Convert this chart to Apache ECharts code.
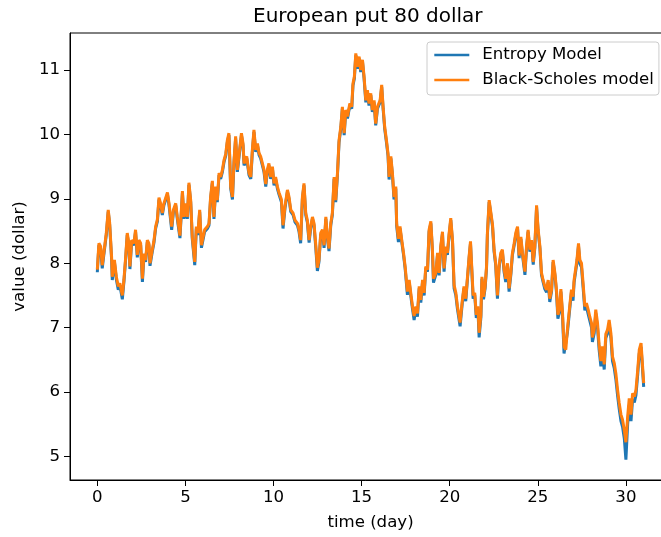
<!DOCTYPE html>
<html>
<head>
<meta charset="utf-8">
<script src="https://cdn.jsdelivr.net/npm/echarts@6/dist/echarts.min.js"></script>
<style>
  html, body { margin: 0; padding: 0; background: #fff; }
  #putChart { width: 661px; height: 537px; }
</style>
</head>
<body>
<div id="putChart"></div>
<script>
// time in days
const days = [
  0.00, 0.09, 0.19, 0.28, 0.37, 0.51, 0.62, 0.70, 0.81, 0.85, 0.97, 1.08, 1.19, 1.28, 1.42, 1.51, 1.61, 1.70, 1.79, 1.85,
  1.95, 2.08, 2.17, 2.27, 2.36, 2.46, 2.56, 2.65, 2.74, 2.84, 2.93, 2.99, 3.12, 3.21, 3.31, 3.41, 3.50, 3.59, 3.69, 3.78,
  3.98, 4.07, 4.22, 4.32, 4.45, 4.54, 4.69, 4.83, 4.92, 5.01, 5.11, 5.20, 5.30, 5.39, 5.53, 5.62, 5.71, 5.81, 5.91, 6.00,
  6.09, 6.25, 6.34, 6.43, 6.53, 6.62, 6.72, 6.81, 6.91, 7.00, 7.10, 7.19, 7.29, 7.38, 7.47, 7.57, 7.67, 7.76, 7.85, 7.95,
  8.04, 8.18, 8.27, 8.33, 8.48, 8.61, 8.71, 8.80, 8.89, 8.99, 9.09, 9.18, 9.27, 9.37, 9.46, 9.56, 9.65, 9.74, 9.84, 9.94,
  10.03, 10.12, 10.22, 10.31, 10.45, 10.54, 10.65, 10.79, 10.88, 10.98, 11.11, 11.22, 11.36, 11.45, 11.54, 11.64, 11.73, 11.83, 11.92, 12.02,
  12.11, 12.21, 12.30, 12.40, 12.49, 12.58, 12.68, 12.78, 12.87, 12.97, 13.06, 13.15, 13.25, 13.34, 13.44, 13.53, 13.63, 13.72, 13.82, 13.91,
  14.01, 14.10, 14.20, 14.33, 14.44, 14.51, 14.59, 14.67, 14.76, 14.86, 14.95, 15.05, 15.14, 15.24, 15.33, 15.42, 15.52, 15.61, 15.71, 15.80,
  15.90, 16.05, 16.14, 16.22, 16.31, 16.41, 16.50, 16.56, 16.66, 16.75, 16.84, 16.94, 16.99, 17.09, 17.18, 17.28, 17.38, 17.47, 17.60, 17.70,
  17.79, 17.89, 17.98, 18.08, 18.17, 18.27, 18.36, 18.46, 18.55, 18.64, 18.74, 18.83, 18.93, 19.02, 19.08, 19.21, 19.31, 19.40, 19.49, 19.59,
  19.68, 19.78, 19.87, 19.97, 20.06, 20.16, 20.25, 20.35, 20.44, 20.59, 20.72, 20.81, 20.91, 21.01, 21.10, 21.18, 21.25, 21.33, 21.42, 21.51,
  21.60, 21.67, 21.77, 21.83, 21.92, 22.01, 22.09, 22.14, 22.24, 22.33, 22.43, 22.52, 22.61, 22.71, 22.80, 22.90, 22.99, 23.09, 23.18, 23.28,
  23.37, 23.47, 23.56, 23.66, 23.75, 23.85, 23.94, 24.04, 24.13, 24.27, 24.36, 24.45, 24.55, 24.65, 24.74, 24.83, 24.93, 25.02, 25.12, 25.21,
  25.30, 25.40, 25.50, 25.59, 25.68, 25.78, 25.87, 25.97, 26.06, 26.14, 26.23, 26.31, 26.40, 26.49, 26.59, 26.68, 26.78, 26.83, 26.91, 27.00,
  27.06, 27.16, 27.22, 27.31, 27.39, 27.48, 27.57, 27.67, 27.76, 27.86, 27.95, 28.05, 28.10, 28.20, 28.29, 28.39, 28.48, 28.58, 28.67, 28.77,
  28.86, 28.96, 29.05, 29.15, 29.24, 29.34, 29.43, 29.53, 29.62, 29.72, 29.81, 29.91, 30.00, 30.10, 30.19, 30.29, 30.38, 30.48, 30.57, 30.67,
  30.76, 30.86, 30.95, 31.01
];

// Black-Scholes model (orange)
const blackScholes = [
  7.90, 8.31, 8.26, 7.97, 8.16, 8.47, 8.83, 8.63, 8.10, 7.79, 8.05, 7.79, 7.64, 7.69, 7.50, 7.74, 8.10, 8.47, 8.31, 7.95,
  8.36, 8.31, 8.52, 8.13, 8.36, 8.31, 7.76, 8.15, 8.05, 8.36, 8.31, 8.00, 8.21, 8.34, 8.57, 8.68, 9.02, 8.93, 8.78, 8.93,
  9.10, 8.93, 8.57, 8.83, 8.93, 8.72, 8.43, 9.12, 8.72, 8.93, 8.72, 9.25, 8.98, 8.41, 8.02, 8.57, 8.47, 8.83, 8.28, 8.30,
  8.52, 8.57, 8.62, 9.03, 9.28, 8.72, 9.19, 8.98, 9.40, 9.34, 9.45, 9.60, 9.70, 9.91, 10.02, 9.19, 9.03, 9.60, 9.97, 9.45,
  9.42, 10.02, 9.86, 9.55, 9.66, 9.40, 9.34, 9.76, 10.07, 9.76, 9.86, 9.71, 9.66, 9.55, 9.45, 9.23, 9.45, 9.55, 9.34, 9.50,
  9.24, 9.34, 9.19, 9.10, 8.99, 8.59, 8.88, 9.14, 9.03, 8.83, 8.78, 8.67, 8.62, 8.52, 8.36, 9.03, 9.24, 8.78, 8.67, 8.36,
  8.57, 8.72, 8.62, 8.28, 7.93, 8.05, 8.47, 8.52, 8.28, 8.72, 8.41, 8.23, 8.62, 8.78, 9.34, 8.98, 9.40, 9.91, 10.12, 10.43,
  10.02, 10.38, 10.28, 10.48, 10.43, 10.79, 10.90, 11.26, 11.05, 11.21, 11.00, 11.16, 10.90, 10.53, 10.69, 10.48, 10.64, 10.38, 10.53, 10.17,
  10.43, 10.53, 10.77, 10.43, 10.12, 9.91, 9.70, 9.34, 9.66, 9.40, 9.03, 9.19, 8.62, 8.38, 8.57, 8.36, 8.16, 7.95, 7.56, 7.74,
  7.54, 7.33, 7.18, 7.33, 7.22, 7.64, 7.43, 7.74, 7.54, 7.95, 7.90, 8.52, 8.65, 8.21, 7.76, 7.85, 8.16, 7.85, 8.26, 8.49,
  7.92, 8.26, 8.16, 8.47, 8.70, 8.36, 7.66, 7.54, 7.33, 7.08, 7.43, 7.64, 7.45, 7.79, 8.10, 8.34, 7.95, 7.50, 7.54, 7.20,
  7.33, 6.92, 7.20, 7.79, 7.48, 7.64, 7.95, 8.47, 8.98, 9.01, 8.60, 8.21, 8.00, 7.50, 7.95, 8.16, 8.21, 7.90, 7.76, 8.00,
  7.61, 7.85, 8.16, 8.31, 8.47, 8.57, 8.12, 8.41, 8.16, 7.87, 8.26, 8.52, 8.21, 8.36, 8.02, 8.26, 8.90, 8.52, 8.26, 7.85,
  7.74, 7.64, 7.59, 7.74, 7.45, 7.59, 8.05, 7.85, 7.59, 7.20, 7.28, 7.60, 7.25, 6.70, 6.66, 6.97, 6.97, 7.38, 7.59, 7.48,
  7.74, 7.74, 8.05, 8.31, 8.05, 8.00, 7.69, 7.33, 7.38, 7.28, 7.17, 7.07, 6.85, 6.97, 7.28, 7.07, 6.74, 6.48, 6.71, 6.43,
  6.90, 6.97, 7.12, 6.91, 6.55, 6.45, 6.29, 6.03, 5.83, 5.65, 5.57, 5.41, 5.22, 5.62, 5.90, 5.65, 5.98, 5.93, 6.03, 6.34,
  6.66, 6.76, 6.76, 6.14
];

// Entropy model (blue)
const entropyModel = [
  7.86, 8.28, 8.23, 7.92, 8.13, 8.44, 8.80, 8.60, 8.06, 7.74, 8.02, 7.75, 7.59, 7.66, 7.44, 7.71, 8.07, 8.44, 8.28, 7.91,
  8.33, 8.28, 8.49, 8.09, 8.33, 8.28, 7.71, 8.12, 8.02, 8.33, 8.28, 7.96, 8.18, 8.31, 8.54, 8.65, 8.99, 8.90, 8.75, 8.90,
  9.07, 8.90, 8.52, 8.80, 8.90, 8.69, 8.39, 9.09, 8.69, 8.90, 8.69, 9.22, 8.95, 8.38, 7.97, 8.54, 8.44, 8.80, 8.24, 8.26,
  8.49, 8.54, 8.59, 9.00, 9.25, 8.69, 9.16, 8.95, 9.37, 9.31, 9.42, 9.57, 9.67, 9.88, 9.99, 9.16, 8.99, 9.57, 9.94, 9.42,
  9.39, 9.99, 9.83, 9.52, 9.63, 9.37, 9.31, 9.73, 10.04, 9.73, 9.83, 9.68, 9.63, 9.52, 9.42, 9.19, 9.42, 9.52, 9.31, 9.47,
  9.21, 9.31, 9.16, 9.07, 8.95, 8.54, 8.85, 9.11, 9.00, 8.80, 8.75, 8.64, 8.59, 8.49, 8.31, 9.00, 9.21, 8.75, 8.64, 8.32,
  8.54, 8.69, 8.59, 8.24, 7.88, 8.02, 8.44, 8.49, 8.24, 8.69, 8.38, 8.19, 8.59, 8.75, 9.31, 8.95, 9.37, 9.88, 10.09, 10.40,
  9.99, 10.35, 10.25, 10.45, 10.40, 10.76, 10.87, 11.23, 11.02, 11.18, 10.97, 11.13, 10.87, 10.50, 10.66, 10.45, 10.61, 10.35, 10.50, 10.14,
  10.40, 10.50, 10.74, 10.40, 10.09, 9.88, 9.67, 9.30, 9.63, 9.37, 8.99, 9.16, 8.58, 8.33, 8.54, 8.33, 8.13, 7.92, 7.51, 7.71,
  7.50, 7.29, 7.12, 7.29, 7.17, 7.61, 7.39, 7.71, 7.50, 7.92, 7.87, 8.49, 8.62, 8.18, 7.70, 7.82, 8.13, 7.81, 8.23, 8.46,
  7.87, 8.23, 8.13, 8.44, 8.67, 8.33, 7.61, 7.50, 7.29, 7.02, 7.40, 7.61, 7.41, 7.76, 8.07, 8.31, 7.91, 7.45, 7.51, 7.15,
  7.29, 6.85, 7.16, 7.76, 7.44, 7.61, 7.92, 8.44, 8.95, 8.98, 8.57, 8.18, 7.97, 7.45, 7.92, 8.13, 8.18, 7.86, 7.71, 7.97,
  7.56, 7.82, 8.13, 8.28, 8.44, 8.54, 8.08, 8.38, 8.13, 7.82, 8.23, 8.49, 8.18, 8.33, 7.98, 8.23, 8.87, 8.49, 8.23, 7.82,
  7.71, 7.60, 7.55, 7.71, 7.40, 7.56, 8.02, 7.82, 7.55, 7.14, 7.24, 7.56, 7.20, 6.60, 6.60, 6.92, 6.92, 7.34, 7.55, 7.42,
  7.70, 7.69, 8.01, 8.27, 7.99, 7.94, 7.63, 7.27, 7.33, 7.21, 7.11, 7.00, 6.78, 6.91, 7.22, 7.00, 6.66, 6.40, 6.64, 6.35,
  6.84, 6.91, 7.06, 6.84, 6.48, 6.37, 6.20, 5.94, 5.74, 5.55, 5.46, 5.28, 4.95, 5.50, 5.80, 5.55, 5.89, 5.84, 5.95, 6.27,
  6.60, 6.70, 6.70, 6.08
];

const xTicks = [0, 5, 10, 15, 20, 25, 30];
const yTicks = [5, 6, 7, 8, 9, 10, 11];

const font = "DejaVu Sans";
const entropyData = days.map((d, i) => [d, entropyModel[i]]);
const bsData = days.map((d, i) => [d, blackScholes[i]]);

const chart = echarts.init(document.getElementById("putChart"), null, { renderer: "canvas" });

const option = {
  animation: false,
  backgroundColor: "#ffffff",
  textStyle: { fontFamily: font },
  title: {
    text: "European put 80 dollar",
    left: 253,
    top: 7,
    padding: 0,
    textStyle: { fontFamily: font, fontSize: 20, fontWeight: "normal", color: "#000" }
  },
  legend: {
    orient: "vertical",
    left: 427,
    top: 42,
    padding: [4, 5, 6, 6],
    itemWidth: 35,
    itemHeight: 18,
    itemGap: 7,
    itemStyle: { opacity: 0 },
    lineStyle: { width: 2.6 },
    backgroundColor: "rgba(255,255,255,0.8)",
    borderColor: "#cccccc",
    borderWidth: 1,
    borderRadius: 3,
    textStyle: { fontFamily: font, fontSize: 16.6, lineHeight: 18, color: "#000", padding: [0, 0, 0, 8] },
    data: ["Entropy Model", "Black-Scholes model"]
  },
  grid: {
    left: 70,
    top: 33,
    width: 601,
    bottom: 57,
    outerBoundsMode: "none",
    show: true,
    borderColor: "#000",
    borderWidth: 1,
    backgroundColor: "transparent"
  },
  xAxis: {
    type: "value",
    min: -1.55,
    max: 32.56,
    name: "time (day)",
    nameLocation: "middle",
    nameGap: 34,
    nameTextStyle: { fontFamily: font, fontSize: 16.6, color: "#000" },
    axisLine: { show: true, onZero: false, lineStyle: { color: "#000", width: 1 } },
    axisTick: { show: true, length: 6, customValues: xTicks, lineStyle: { color: "#000", width: 1 } },
    axisLabel: { customValues: xTicks, margin: 9, fontFamily: font, fontSize: 16.6, color: "#000" },
    splitLine: { show: false }
  },
  yAxis: {
    type: "value",
    min: 4.634,
    max: 11.576,
    name: "value (dollar)",
    nameLocation: "middle",
    nameGap: 39,
    nameTextStyle: { fontFamily: font, fontSize: 16.6, color: "#000" },
    axisLine: { show: true, onZero: false, lineStyle: { color: "#000", width: 1 } },
    axisTick: { show: true, length: 6, customValues: yTicks, lineStyle: { color: "#000", width: 1 } },
    axisLabel: { customValues: yTicks, margin: 10, fontFamily: font, fontSize: 16.6, color: "#000" },
    splitLine: { show: false }
  },
  series: [
    {
      name: "Entropy Model",
      type: "line",
      symbol: "none",
      color: "#1f77b4",
      lineStyle: { width: 3, color: "#1f77b4" },
      data: entropyData
    },
    {
      name: "Black-Scholes model",
      type: "line",
      symbol: "none",
      color: "#ff7f0e",
      lineStyle: { width: 3, color: "#ff7f0e" },
      data: bsData
    }
  ]
};

chart.setOption(option);

window.addEventListener("resize", function() {
  chart.resize();
});
</script>
</body>
</html>
